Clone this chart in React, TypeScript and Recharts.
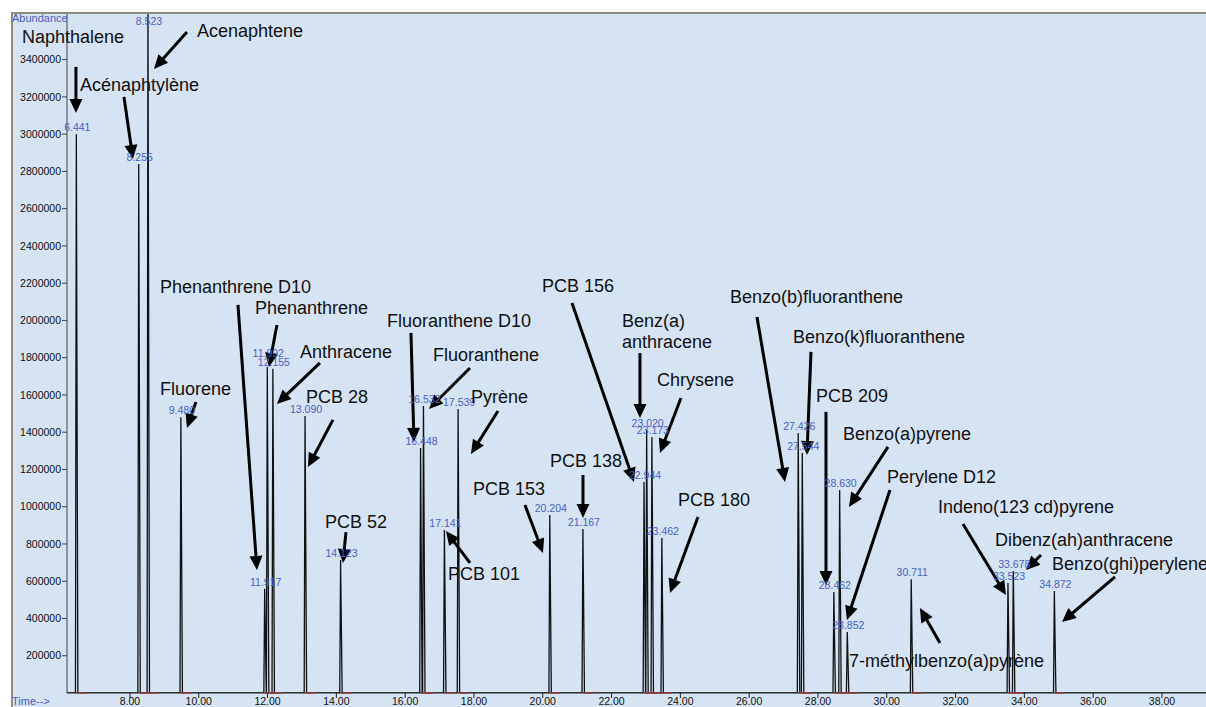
import React from 'react';
import { LineChart, Line, XAxis, YAxis, ReferenceDot, ReferenceLine } from 'recharts';

// Peaks: retention time (min), abundance at apex, printed RT label
const peakTimes = [6.441, 8.255, 8.523, 9.48, 11.917, 11.992, 12.155, 13.09, 14.123, 16.448, 16.532, 17.141, 17.539, 20.204, 21.167, 22.944, 23.02, 23.173, 23.462, 27.426, 27.544, 28.462, 28.63, 28.852, 30.711, 33.523, 33.678, 34.872];
const peakHeights = [3000000, 2840000, 3700000, 1480000, 560000, 1750000, 1740000, 1487000, 714000, 1315000, 1541000, 875000, 1525000, 956000, 880000, 1133000, 1412000, 1374000, 832000, 1396000, 1289000, 542000, 1090000, 328000, 610000, 590000, 655000, 548000];
const peakLabels = ['6.441', '8.255', '8.523', '9.480', '11.917', '11.992', '12.155', '13.090', '14.123', '16.448', '16.532', '17.141', '17.539', '20.204', '21.167', '22.944', '23.020', '23.173', '23.462', '27.426', '27.544', '28.462', '28.630', '28.852', '30.711', '33.523', '33.678', '34.872'];

// Compound names and their anchor (left, vertical centre) in data units
const compoundNames = ['Naphthalene', 'Acenaphtene', 'Acénaphtylène', 'Fluorene', 'Phenanthrene D10', 'Phenanthrene', 'Anthracene', 'PCB 28', 'PCB 52', 'Fluoranthene D10', 'Fluoranthene', 'Pyrène', 'PCB 101', 'PCB 153', 'PCB 138', 'PCB 156', 'Benz(a)', 'anthracene', 'Chrysene', 'PCB 180', 'Benzo(b)fluoranthene', 'Benzo(k)fluoranthene', 'PCB 209', 'Benzo(a)pyrene', 'Perylene D12', '7-méthylbenzo(a)pyrène', 'Indeno(123 cd)pyrene', 'Dibenz(ah)anthracene', 'Benzo(ghi)perylene'];
const nameTimes = [4.86, 9.948, 6.547, 8.872, 8.872, 11.634, 12.942, 13.116, 13.669, 15.471, 16.808, 17.913, 17.244, 17.971, 20.209, 19.977, 22.302, 22.302, 23.32, 23.93, 25.442, 27.273, 27.942, 28.727, 30.006, 28.901, 31.488, 33.145, 34.802];
const nameAbund = [3522000, 3554000, 3264000, 1632000, 2180000, 2067000, 1831000, 1589000, 918000, 1997000, 1815000, 1589000, 639000, 1095000, 1246000, 2185000, 1997000, 1885000, 1680000, 1036000, 2126000, 1911000, 1595000, 1391000, 1160000, 172000, 999000, 821000, 693000];

// Arrows: start -> tip, data units
const arrowFromT = [6.43, 9.657, 7.826, 9.919, 11.14, 12.273, 13.523, 13.901, 14.279, 16.169, 17.884, 18.698, 17.884, 19.483, 21.169, 20.849, 22.826, 24.017, 24.512, 26.227, 27.797, 28.233, 30.035, 30.093, 31.547, 32.215, 34.483, 36.634];
const arrowFromA = [3361000, 3549000, 3200000, 1562000, 2083000, 1976000, 1772000, 1466000, 864000, 1933000, 1745000, 1514000, 698000, 1009000, 1170000, 2094000, 1825000, 1584000, 945000, 2019000, 1831000, 1509000, 1321000, 1090000, 268000, 907000, 741000, 623000];
const arrowToT = [6.43, 8.698, 8.087, 9.657, 11.692, 12.041, 12.273, 13.174, 14.192, 16.256, 16.692, 17.913, 17.186, 20.006, 21.169, 22.651, 22.826, 23.407, 23.698, 27.041, 27.68, 28.233, 28.901, 28.843, 30.965, 33.465, 34.047, 35.093];
const arrowToA = [3114000, 3350000, 2867000, 1423000, 660000, 1750000, 1552000, 1213000, 698000, 1348000, 1525000, 1283000, 870000, 752000, 940000, 1133000, 1476000, 1289000, 537000, 1133000, 1278000, 580000, 999000, 392000, 456000, 526000, 660000, 381000];

// Axis ticks
const timeTicks = [8, 10, 12, 14, 16, 18, 20, 22, 24, 26, 28, 30, 32, 34, 36, 38];
const abundanceTicks = [200000, 400000, 600000, 800000, 1000000, 1200000, 1400000, 1600000, 1800000, 2000000, 2200000, 2400000, 2600000, 2800000, 3000000, 3200000, 3400000];

const X_DOMAIN: [number, number] = [6.17, 39.28];
const Y_DOMAIN: [number, number] = [0, 3645000];

const minorTimeTicks: number[] = [];
for (let k = 16; k <= 98; k++) minorTimeTicks.push(Math.round(k * 0.4 * 1000) / 1000);
const minorAbundTicks: number[] = [];
for (let k = 1; k <= 91; k++) minorAbundTicks.push(k * 40000);

// Chromatogram trace built from the peak table
const trace: { t: number; a: number }[] = [{ t: X_DOMAIN[0], a: 0 }];
peakTimes.forEach((t, i) => {
  trace.push({ t: t - 0.025, a: 0 });
  trace.push({ t, a: peakHeights[i] });
  trace.push({ t: t + 0.045, a: 0 });
});
trace.push({ t: X_DOMAIN[1], a: 0 });

const FONT = '"Liberation Sans", Arial, Helvetica, sans-serif';
const BLUE = '#4a61c4';

const Arrow = (p: any) => {
  const { x1, y1, x2, y2 } = p;
  const dx = x2 - x1;
  const dy = y2 - y1;
  const len = Math.hypot(dx, dy) || 1;
  const ux = dx / len;
  const uy = dy / len;
  const hl = 14;
  const hw = 6.5;
  const bx = x2 - ux * hl;
  const by = y2 - uy * hl;
  const pts = `${x2},${y2} ${bx - uy * hw},${by + ux * hw} ${bx + uy * hw},${by - ux * hw}`;
  return (
    <g>
      <line x1={x1} y1={y1} x2={bx + ux * 2} y2={by + uy * 2} stroke="#000" strokeWidth={3} />
      <polygon points={pts} fill="#000" />
    </g>
  );
};

const makeNameShape = (text: string) => (p: any) => (
  <text x={p.cx} y={p.cy} dominantBaseline="central" textAnchor="start" fontFamily={FONT} fontSize={18} fill="#111">
    {text}
  </text>
);

const makeRtShape = (text: string, extra: number) => (p: any) => (
  <text x={p.cx + 1} y={Math.max(p.cy - 7 - extra, 21)} dominantBaseline="central" textAnchor="middle" fontFamily={FONT} fontSize={10.5} fill={BLUE}>
    {text}
  </text>
);

export default function App() {
  return (
    <div style={{ position: 'absolute', left: 0, top: 0, width: 1206, height: 707, background: '#fff', overflow: 'hidden' }}>
      <div
        style={{
          position: 'absolute',
          left: 11,
          top: 12,
          right: 0,
          bottom: 0,
          background: '#d6e3f3',
          borderTop: '2px solid #8f8c80',
          borderLeft: '2px solid #8f8c80',
        }}
      />
      <div style={{ position: 'absolute', left: 0, top: 0 }}>
        <LineChart width={1206} height={707} data={trace} margin={{ top: 14, right: 0, bottom: 0, left: 0 }}>
          <XAxis
            xAxisId="mx"
            type="number"
            dataKey="t"
            domain={X_DOMAIN}
            allowDataOverflow
            ticks={minorTimeTicks}
            tick={false}
            tickSize={3}
            axisLine={false}
            height={0}
            tickLine={{ stroke: '#333' }}
          />
          <XAxis
            type="number"
            dataKey="t"
            domain={X_DOMAIN}
            allowDataOverflow
            ticks={timeTicks}
            tickFormatter={(v: number) => v.toFixed(2)}
            tickSize={5}
            tickMargin={0}
            height={14}
            interval={0}
            axisLine={{ stroke: '#222' }}
            tickLine={{ stroke: '#222' }}
            tick={{ fill: '#111', fontSize: 10.5, fontFamily: FONT }}
          />
          <YAxis
            yAxisId="my"
            type="number"
            domain={Y_DOMAIN}
            allowDataOverflow
            ticks={minorAbundTicks}
            tick={false}
            tickSize={2}
            axisLine={false}
            width={0}
            tickLine={{ stroke: '#444' }}
          />
          <YAxis
            type="number"
            domain={Y_DOMAIN}
            allowDataOverflow
            ticks={abundanceTicks}
            tickFormatter={(v: number) => String(v)}
            tickSize={5}
            tickMargin={1}
            width={67}
            interval={0}
            axisLine={{ stroke: '#444' }}
            tickLine={{ stroke: '#444' }}
            tick={{ fill: '#111', fontSize: 10.5, fontFamily: FONT }}
          />
          <Line
            type="linear"
            dataKey="a"
            stroke="#111"
            strokeWidth={1.3}
            dot={false}
            activeDot={false}
            isAnimationActive={false}
          />
          {peakTimes.map((t, i) => (
            <ReferenceLine
              key={`red${i}`}
              segment={[{ x: t + 0.01, y: 0 }, { x: t + 0.3, y: 0 }]}
              stroke="#ff5c5c"
              strokeWidth={1.5}
              ifOverflow="visible"
            />
          ))}
          {peakTimes.map((t, i) => (
            <ReferenceDot
              key={`rt${i}`}
              x={t}
              y={peakHeights[i]}
              r={0}
              ifOverflow="visible"
              shape={makeRtShape(peakLabels[i], peakLabels[i] === '11.992' ? 7 : 0)}
            />
          ))}
          {arrowFromT.map((t, i) => (
            <ReferenceLine
              key={`ar${i}`}
              segment={[{ x: t, y: arrowFromA[i] }, { x: arrowToT[i], y: arrowToA[i] }]}
              ifOverflow="visible"
              shape={Arrow}
            />
          ))}
          {compoundNames.map((n, i) => (
            <ReferenceDot
              key={`nm${i}`}
              x={nameTimes[i]}
              y={nameAbund[i]}
              r={0}
              ifOverflow="visible"
              shape={makeNameShape(n)}
            />
          ))}
        </LineChart>
      </div>
      <div style={{ position: 'absolute', left: 12, top: 12, fontFamily: FONT, fontSize: 11, color: BLUE, lineHeight: '13px' }}>
        Abundance
      </div>
      <div style={{ position: 'absolute', left: 12, top: 695, fontFamily: FONT, fontSize: 11, color: BLUE, lineHeight: '13px' }}>
        Time--&gt;
      </div>
    </div>
  );
}
